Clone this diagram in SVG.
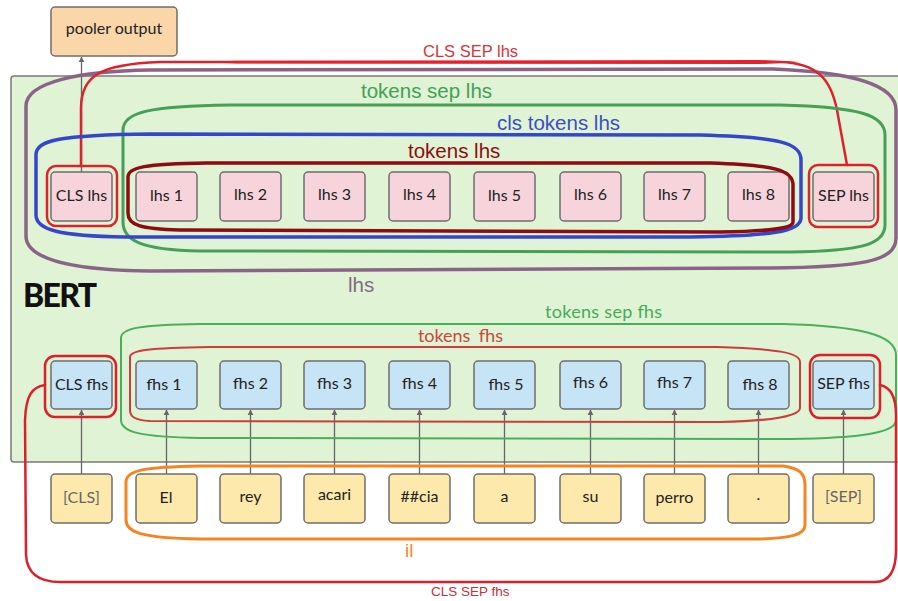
<svg xmlns="http://www.w3.org/2000/svg" width="898" height="601" viewBox="0 0 898 601">
  <defs>
    <marker id="arrow" viewBox="0 0 10 10" refX="9" refY="5" markerWidth="6" markerHeight="7" markerUnits="userSpaceOnUse" orient="auto">
      <path d="M0,0 L10,5 L0,10 Z" fill="#666"/>
    </marker>
    <style>
      .box { stroke: #6e6e6e; stroke-width: 1.5; }
      .lhs { fill: #f7d4dc; }
      .fhs { fill: #c6e4f6; }
      .tok { fill: #fde9ab; }
      .nt { font-family: Lato, "Open Sans", sans-serif; font-size: 16px; fill: #222; text-anchor: middle; }
      .gray { fill: #666; }
      .conn { stroke: #666; stroke-width: 1.3; fill: none; }
      .loop { fill: none; stroke-linejoin: round; stroke-linecap: round; }
      .lab { font-family: "Liberation Sans", Arial, sans-serif; }
      .lab2 { font-family: Lato, "Open Sans", sans-serif; }
    </style>
  </defs>

  <rect width="898" height="601" fill="#ffffff"/>

  <!-- BERT container -->
  <g id="bert">
    <rect x="11" y="76" width="900" height="386" rx="3" fill="#e0f3d5" stroke="#7a7a7a" stroke-width="1.5"/>
    <text x="23" y="307" font-family="Lato, 'Open Sans', sans-serif" font-weight="900" font-size="32" fill="#111" textLength="74">BERT</text>
  </g>

  <!-- connectors -->
  <g id="connectors">
    <path class="conn" d="M81.5 172 V57" marker-end="url(#arrow)"/>
    <path class="conn" d="M81.5 474 V410" marker-end="url(#arrow)"/>
    <path class="conn" d="M166.5 474 V410" marker-end="url(#arrow)"/>
    <path class="conn" d="M250.5 474 V410" marker-end="url(#arrow)"/>
    <path class="conn" d="M334.5 474 V410" marker-end="url(#arrow)"/>
    <path class="conn" d="M419.5 474 V410" marker-end="url(#arrow)"/>
    <path class="conn" d="M504.5 474 V410" marker-end="url(#arrow)"/>
    <path class="conn" d="M590.5 474 V410" marker-end="url(#arrow)"/>
    <path class="conn" d="M674.5 474 V410" marker-end="url(#arrow)"/>
    <path class="conn" d="M758.5 474 V410" marker-end="url(#arrow)"/>
    <path class="conn" d="M843.5 474 V410" marker-end="url(#arrow)"/>
  </g>

  <!-- pooler -->
  <g id="pooler">
    <rect class="box" x="51" y="7" width="126" height="49" rx="4" fill="#fbd6a9"/>
    <text class="nt" x="114" y="34">pooler output</text>
  </g>

  <!-- lhs row -->
  <g id="cls-lhs"><rect class="box lhs" x="51" y="172" width="61" height="49" rx="4"/><text class="nt" x="81.5" y="201">CLS lhs</text></g>
  <g id="lhs-1"><rect class="box lhs" x="136" y="172" width="61" height="49" rx="4"/><text class="nt" x="166.5" y="201">lhs 1</text></g>
  <g id="lhs-2"><rect class="box lhs" x="220" y="172" width="61" height="49" rx="4"/><text class="nt" x="250.5" y="200">lhs 2</text></g>
  <g id="lhs-3"><rect class="box lhs" x="304" y="172" width="61" height="49" rx="4"/><text class="nt" x="334.5" y="200">lhs 3</text></g>
  <g id="lhs-4"><rect class="box lhs" x="389" y="172" width="61" height="49" rx="4"/><text class="nt" x="419.5" y="200">lhs 4</text></g>
  <g id="lhs-5"><rect class="box lhs" x="474" y="172" width="61" height="49" rx="4"/><text class="nt" x="504.5" y="201">lhs 5</text></g>
  <g id="lhs-6"><rect class="box lhs" x="560" y="172" width="61" height="49" rx="4"/><text class="nt" x="590.5" y="200">lhs 6</text></g>
  <g id="lhs-7"><rect class="box lhs" x="644" y="172" width="61" height="49" rx="4"/><text class="nt" x="674.5" y="200">lhs 7</text></g>
  <g id="lhs-8"><rect class="box lhs" x="728" y="172" width="61" height="49" rx="4"/><text class="nt" x="758.5" y="200">lhs 8</text></g>
  <g id="sep-lhs"><rect class="box lhs" x="813" y="172" width="61" height="49" rx="4"/><text class="nt" x="843.5" y="201">SEP lhs</text></g>

  <!-- fhs row -->
  <g id="cls-fhs"><rect class="box fhs" x="51" y="361" width="61" height="48" rx="4"/><text class="nt" x="81.5" y="390">CLS fhs</text></g>
  <g id="fhs-1"><rect class="box fhs" x="136" y="361" width="61" height="48" rx="4"/><text class="nt" x="164" y="390">fhs 1</text></g>
  <g id="fhs-2"><rect class="box fhs" x="220" y="361" width="61" height="48" rx="4"/><text class="nt" x="250.5" y="389">fhs 2</text></g>
  <g id="fhs-3"><rect class="box fhs" x="304" y="361" width="61" height="48" rx="4"/><text class="nt" x="334.5" y="389">fhs 3</text></g>
  <g id="fhs-4"><rect class="box fhs" x="389" y="361" width="61" height="48" rx="4"/><text class="nt" x="419.5" y="389">fhs 4</text></g>
  <g id="fhs-5"><rect class="box fhs" x="474" y="361" width="61" height="48" rx="4"/><text class="nt" x="506" y="390">fhs 5</text></g>
  <g id="fhs-6"><rect class="box fhs" x="560" y="361" width="61" height="48" rx="4"/><text class="nt" x="590.5" y="388">fhs 6</text></g>
  <g id="fhs-7"><rect class="box fhs" x="644" y="361" width="61" height="48" rx="4"/><text class="nt" x="674.5" y="388">fhs 7</text></g>
  <g id="fhs-8"><rect class="box fhs" x="728" y="361" width="61" height="48" rx="4"/><text class="nt" x="760" y="390">fhs 8</text></g>
  <g id="sep-fhs"><rect class="box fhs" x="813" y="361" width="61" height="48" rx="4"/><text class="nt" x="843.5" y="389">SEP fhs</text></g>

  <!-- input tokens -->
  <g id="tok-cls"><rect class="box tok" x="51" y="474" width="61" height="49" rx="4"/><text class="nt gray" x="81.5" y="503">[CLS]</text></g>
  <g id="tok-el"><rect class="box tok" x="136" y="474" width="61" height="49" rx="4"/><text class="nt" x="166" y="503">El</text></g>
  <g id="tok-rey"><rect class="box tok" x="220" y="474" width="61" height="49" rx="4"/><text class="nt" x="250.5" y="502">rey</text></g>
  <g id="tok-acari"><rect class="box tok" x="304" y="474" width="61" height="49" rx="4"/><text class="nt" x="334.5" y="500">acari</text></g>
  <g id="tok-cia"><rect class="box tok" x="389" y="474" width="61" height="49" rx="4"/><text class="nt" x="419.5" y="502">##cia</text></g>
  <g id="tok-a"><rect class="box tok" x="474" y="474" width="61" height="49" rx="4"/><text class="nt" x="504.5" y="502">a</text></g>
  <g id="tok-su"><rect class="box tok" x="560" y="474" width="61" height="49" rx="4"/><text class="nt" x="590.5" y="502">su</text></g>
  <g id="tok-perro"><rect class="box tok" x="644" y="474" width="61" height="49" rx="4"/><text class="nt" x="674.5" y="503">perro</text></g>
  <g id="tok-dot"><rect class="box tok" x="728" y="474" width="61" height="49" rx="4"/><text class="nt" x="758.5" y="500">.</text></g>
  <g id="tok-sep"><rect class="box tok" x="813" y="474" width="61" height="49" rx="4"/><text class="nt gray" x="843.5" y="502">[SEP]</text></g>

  <!-- grouping outlines -->
  <g id="groups">
    <!-- lhs -->
    <path class="loop" stroke="#8a6487" stroke-width="3.5" d="M150 70 L773 69 C850 72 896 84 896 110 L896 238 C896 262 860 267 770 268 L150 271 C60 270 26 256 26 236 L26 106 C26 82 80 71 150 70 Z"/>
    <!-- CLS SEP lhs -->
    <path class="loop" stroke="#e0202c" stroke-width="2.5" d="M81 166 L81 108 C81 76 100 64 160 62 L780 62 C818 63 831 80 837 110 L847 165"/>
    <path d="M237 60.8 L760 60 L800 62 L760 64 L237 63.5 L200 62 Z" fill="#e8202c"/>
    <rect class="loop" x="47" y="166" width="70" height="60" rx="9" stroke="#e0202c" stroke-width="2.5"/>
    <rect class="loop" x="809" y="165" width="69" height="62" rx="9" stroke="#e0202c" stroke-width="2.5"/>
    <!-- tokens sep lhs -->
    <path class="loop" stroke="#46a058" stroke-width="3" d="M230 105 L780 105 C860 107 885 115 885 135 L885 225 C885 245 860 251 790 252 L200 251 C140 250 123 240 123 222 L123 130 C123 112 150 106 230 105 Z"/>
    <!-- cls tokens lhs -->
    <path class="loop" stroke="#3446cc" stroke-width="3.5" d="M150 134 L700 135 C780 137 801 143 801 160 L801 218 C801 232 770 236 690 237 L125 237 C60 236 36 230 36 215 L36 155 C36 140 60 135 150 134 Z"/>
    <!-- tokens lhs -->
    <path class="loop" stroke="#8e0b12" stroke-width="3.5" d="M207 163 L710 163 C775 165 793 170 793 185 L793 222 C793 229 770 231 720 232 L180 230 C140 229 128 225 128 213 L128 177 C128 167 145 164 207 163 Z"/>

    <!-- tokens sep fhs -->
    <path class="loop" stroke="#48b05c" stroke-width="2" d="M200 324 L783 324 C860 326 896 335 896 355 L896 420 C896 433 860 438 790 439 L200 438 C140 437 121 432 121 420 L121 338 C121 328 140 325 200 324 Z"/>
    <!-- tokens fhs -->
    <path class="loop" stroke="#cc3c3c" stroke-width="2" d="M210 347 L717 347 C780 349 800 353 800 362 L800 408 C800 416 770 421 720 422 L150 421 C135 420 130 417 130 410 L130 357 C130 350 150 348 210 347 Z"/>
    <!-- CLS SEP fhs -->
    <rect class="loop" x="45" y="356" width="71" height="61" rx="10" stroke="#dd1f2b" stroke-width="2.5"/>
    <rect class="loop" x="810" y="355" width="70" height="63" rx="10" stroke="#dd1f2b" stroke-width="2.5"/>
    <path class="loop" stroke="#dd1f2b" stroke-width="2.5" d="M45 385 C32 387 26 395 25 420 L26 555 C27 573 38 582 60 582 L875 582 C890 582 896 570 896 550 L896 415 C896 395 890 387 880 385"/>
    <!-- il -->
    <path class="loop" stroke="#f7841f" stroke-width="3" d="M200 466 L783 466 C800 468 805 474 805 485 L805 525 C805 535 790 538 760 539 L200 539 C140 538 126 532 126 520 L126 482 C126 470 145 467 200 466 Z"/>
  </g>

  <!-- group labels -->
  <g id="labels">
    <text class="lab" x="423" y="57" font-size="16.5" fill="#d8333b">CLS SEP lhs</text>
    <text class="lab" x="361" y="98" font-size="20.5" fill="#44a058">tokens sep lhs</text>
    <text class="lab" x="497" y="130" font-size="20.5" fill="#3d4fc0">cls tokens lhs</text>
    <text class="lab" x="408" y="158" font-size="20.5" fill="#8c0d12">tokens lhs</text>
    <text class="lab" x="348" y="292" font-size="20.5" fill="#7e6d82">lhs</text>
    <text class="lab2" x="545" y="318" font-size="18" fill="#43ad5b" textLength="117">tokens sep fhs</text>
    <text class="lab2" x="418" y="342" font-size="18" fill="#c8473f" word-spacing="4" textLength="85">tokens fhs</text>
    <text class="lab" x="405" y="557" font-size="19" fill="#f58a2c">il</text>
    <text class="lab" x="431" y="596" font-size="13.5" fill="#d02a35">CLS SEP fhs</text>
  </g>
</svg>
